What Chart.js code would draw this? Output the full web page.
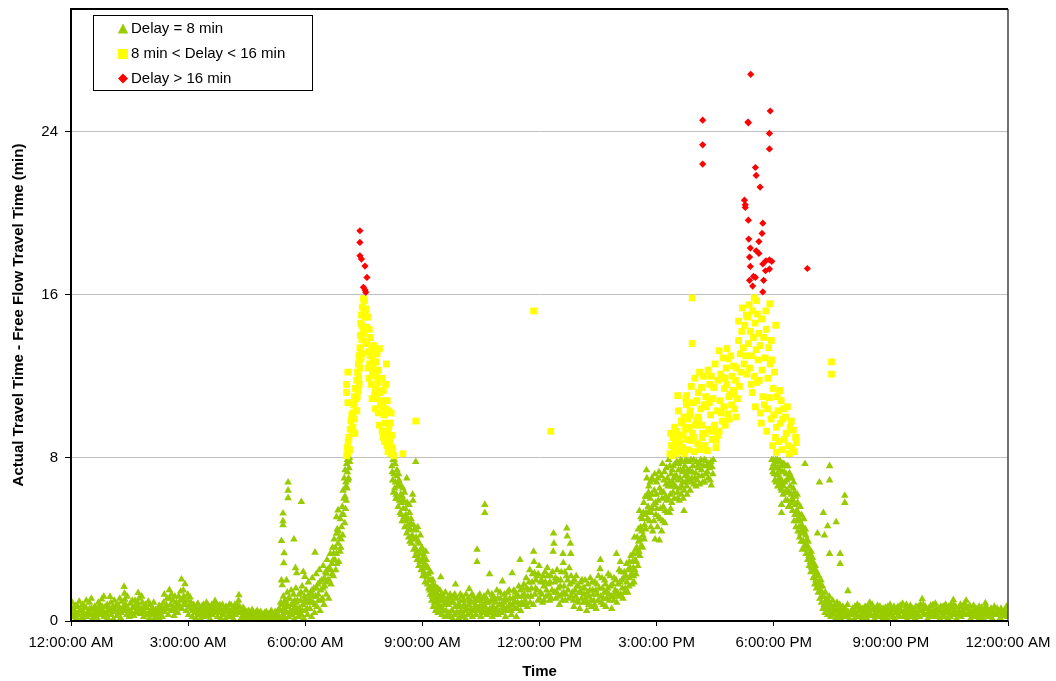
<!DOCTYPE html>
<html>
<head>
<meta charset="utf-8">
<title>Travel time delay by time of day</title>
<script src="https://cdn.jsdelivr.net/npm/chart.js@4.4.1/dist/chart.umd.min.js"></script>
<style>
  html, body { margin: 0; padding: 0; background: #fff; }
  #wrap { width: 1056px; height: 681px; }
</style>
</head>
<body>
<div id="wrap"><canvas id="delayChart" width="1056" height="681"></canvas></div>
<script>
// --- AXES ---
const timeTicks = [0, 3, 6, 9, 12, 15, 18, 21, 24];
const timeLabels = ['12:00:00 AM', '3:00:00 AM', '6:00:00 AM', '9:00:00 AM', '12:00:00 PM',
                    '3:00:00 PM', '6:00:00 PM', '9:00:00 PM', '12:00:00 AM'];
const delayTicks = [0, 8, 16, 24];
const delayMax = 30;
const seriesNames = ['Delay = 8 min', '8 min < Delay < 16 min', 'Delay > 16 min'];

// --- DATA : [hour of day, delay (min)] ---
const greenNight = [
  [0.02,0.35],[0.05,0.6],[0.08,0.2],[0.11,0.45],[0.14,0.15],[0.17,0.7],[0.2,0.3],[0.23,0.55],[0.26,0.1],[0.29,0.8],
  [0.32,0.4],[0.35,0.25],[0.38,0.65],[0.41,0.2],[0.44,0.5],[0.47,0.9],[0.5,0.3],[0.53,0.6],[0.56,0.15],[0.59,0.45],
  [0.62,0.2],[0.65,0.35],[0.68,0.1],[0.71,0.55],[0.74,0.8],[0.77,0.3],[0.79,1.06],[0.82,0.5],[0.85,0.2],[0.88,0.7],
  [0.91,0.4],[0.94,0.15],[0.97,0.6],[1.0,1.19],[1.03,0.3],[1.06,0.55],[1.09,0.1],[1.12,0.45],[1.15,0.75],[1.18,0.25],
  [1.21,0.4],[1.24,0.6],[1.27,0.15],[1.3,0.95],[1.33,0.5],[1.36,1.68],[1.37,1.35],[1.38,1.05],[1.4,0.8],[1.43,0.3],
  [1.46,0.6],[1.49,0.2],[1.52,0.85],[1.55,0.4],[1.58,0.65],[1.61,0.25],[1.64,1.0],[1.67,0.5],[1.7,0.75],[1.72,1.38],
  [1.74,1.1],[1.77,0.35],[1.8,0.6],[1.83,0.9],[1.86,0.2],[1.89,0.45],[1.92,0.7],[1.95,0.3],[1.98,0.95],[2.01,0.15],
  [2.04,0.5],[2.07,0.3],[2.1,0.6],[2.13,0.1],[2.16,0.4],[2.19,0.25],[2.22,0.55],[2.25,0.15],[2.28,0.35],[2.31,0.7],
  [2.34,0.2],[2.37,0.9],[2.4,0.45],[2.43,0.65],[2.46,1.1],[2.49,0.3],[2.52,1.52],[2.55,0.8],[2.58,0.5],[2.61,1.0],
  [2.64,0.25],[2.67,0.6],[2.7,0.9],[2.73,0.4],[2.76,1.2],[2.79,0.7],[2.81,1.45],[2.83,2.04],[2.86,1.1],[2.88,1.5],
  [2.9,0.85],[2.92,1.81],[2.95,0.5],[2.98,1.0],[3.01,0.3],[3.05,1.16],[3.08,0.6],[3.11,0.2],[3.14,0.8],[3.17,0.4],
  [3.2,0.15],[3.23,0.6],[3.26,0.3],[3.29,0.5],[3.32,0.1],[3.35,0.7],[3.38,0.35],[3.41,0.2],[3.44,0.55],[3.47,0.9],
  [3.5,0.25],[3.53,0.45],[3.56,0.1],[3.59,0.6],[3.62,0.3],[3.66,0.75],[3.69,0.98],[3.72,0.4],[3.75,0.2],[3.78,0.55],
  [3.81,0.78],[3.84,0.15],[3.87,0.4],[3.9,0.3],[3.93,0.6],[3.96,0.1],[3.99,0.45],[4.02,0.25],[4.05,0.5],[4.08,0.2],
  [4.1,0.78],[4.13,0.35],[4.16,0.1],[4.19,0.55],[4.22,0.3],[4.25,0.6],[4.27,0.75],[4.3,1.27],[4.33,0.4],[4.36,0.15],
  [4.39,0.5],[4.42,0.25],[4.45,0.35],[4.48,0.1],[4.51,0.45],[4.54,0.2],[4.57,0.3],[4.6,0.05],[4.63,0.4],[4.66,0.2],
  [4.69,0.3],[4.72,0.1],[4.75,0.45],[4.78,0.2],[4.81,0.15],[4.84,0.39],[4.87,0.1],[4.9,0.3],[4.93,0.05],[4.96,0.4],
  [4.99,0.2],[5.02,0.1],[5.05,0.35],[5.08,0.15],[5.11,0.4],[5.14,0.05],[5.17,0.3],[5.2,0.2],[5.23,0.45],[5.26,0.1],[5.29,0.3],
  [0.03,0.9],[0.07,0.4],[0.12,0.75],[0.16,0.3],[0.21,0.95],[0.25,0.5],[0.3,0.15],[0.34,0.7],[0.39,1.0],[0.43,0.35],
  [0.48,0.6],[0.52,1.1],[0.57,0.4],[0.61,0.7],[0.66,0.55],[0.7,0.9],[0.75,0.45],[0.8,0.7],[0.84,1.2],[0.89,0.35],
  [0.93,0.8],[0.98,0.5],[1.02,0.9],[1.07,0.7],[1.11,1.0],[1.16,0.45],[1.2,0.8],[1.25,1.1],[1.29,0.4],[1.34,0.7],
  [1.39,0.55],[1.44,1.2],[1.48,0.5],[1.53,0.3],[1.57,1.0],[1.62,0.7],[1.66,0.4],[1.71,0.9],[1.76,0.6],[1.81,1.2],
  [1.85,0.5],[1.9,0.8],[1.94,0.65],[1.99,0.4],[2.03,0.8],[2.08,0.6],[2.12,0.9],[2.17,0.55],[2.21,0.3],[2.26,0.75],
  [2.3,0.5],[2.35,0.6],[2.39,1.3],[2.44,0.8],[2.48,0.6],[2.53,1.1],[2.57,1.3],[2.62,0.7],[2.66,1.2],[2.71,0.5],
  [2.75,0.8],[2.8,1.0],[2.84,0.6],[2.89,1.2],[2.94,0.8],[2.99,1.3],[3.03,0.7],[3.07,0.9],[3.12,0.5],[3.16,0.7],
  [3.21,0.4],[3.25,0.85],[3.3,0.65],[3.34,0.4],[3.39,0.8],[3.43,0.45],[3.48,0.6],[3.52,0.75],[3.57,0.35],[3.61,0.8],
  [3.65,0.5],[3.7,0.6],[3.74,0.8],[3.79,0.4],[3.83,0.6],[3.88,0.8],[3.92,0.45],[3.97,0.7],[4.01,0.5],[4.06,0.8],
  [4.11,0.5],[4.15,0.65],[4.2,0.8],[4.24,0.45],[4.29,1.0],[4.32,0.7],[4.37,0.55],[4.41,0.65],[4.46,0.5],[4.5,0.3],
  [4.55,0.5],[4.59,0.35],[4.64,0.55],[4.68,0.4],[4.73,0.3],[4.77,0.5],[4.82,0.3],[4.86,0.45],[4.91,0.2],[4.95,0.3],
  [5.0,0.45],[5.04,0.25],[5.09,0.3],[5.13,0.5],[5.18,0.15],[5.22,0.3],[5.27,0.4]
];
const greenDawn = [
  [5.32,0.2],[5.35,0.5],[5.38,0.1],[5.4,0.8],[5.42,0.3],[5.44,1.2],[5.46,0.6],[5.48,0.15],[5.5,1.0],[5.52,0.4],
  [5.54,1.4],[5.56,0.7],[5.58,0.2],[5.6,1.1],[5.62,0.5],[5.64,1.5],[5.66,0.3],[5.68,0.9],[5.7,1.3],[5.72,0.1],
  [5.74,0.7],[5.76,1.6],[5.78,0.4],[5.8,1.0],[5.82,0.2],[5.84,1.3],[5.86,0.6],[5.88,1.0],[5.9,0.3],[5.92,1.7],
  [5.94,0.8],[5.96,0.15],[5.98,1.2],[6.0,0.5],[6.02,1.5],[6.04,0.9],[6.06,0.3],[6.08,1.9],[6.1,1.1],[6.12,0.6],
  [6.14,1.4],[6.16,0.2],[6.18,2.1],[6.2,0.9],[6.22,1.6],[6.24,0.4],[6.26,1.2],[6.28,2.3],[6.3,0.7],[6.32,1.8],
  [6.34,1.0],[6.36,2.5],[6.38,0.5],[6.4,1.5],[6.42,2.0],[6.44,1.1],[6.46,2.7],[6.48,0.8],[6.5,1.7],[6.52,2.4],
  [6.54,1.3],[6.56,3.0],[6.58,2.0],[6.6,1.1],[6.62,2.6],[6.64,3.3],[6.66,1.8],[6.68,2.8],[6.7,3.6],[6.72,2.2],
  [6.74,4.0],[6.76,3.0],[6.78,2.5],[6.8,3.3],[6.82,4.5],[6.84,3.8],[6.86,2.9],[6.88,4.1],[6.9,5.0],[6.91,3.6],
  [6.93,4.6],[6.95,5.6],[6.96,4.2],[6.97,6.4],[6.98,5.2],[7.0,7.0],[7.01,4.8],[7.02,6.1],[7.03,5.5],[7.04,6.8],
  [7.05,5.9],[7.06,7.7],[7.07,6.5],[7.08,7.3],[7.09,6.9],[7.1,7.9],[7.12,7.5],[7.14,7.8],
  [5.33,0.6],[5.37,0.9],[5.41,0.5],[5.45,0.9],[5.49,0.5],[5.53,0.8],[5.57,1.1],[5.61,0.3],[5.65,0.8],[5.69,0.5],
  [5.73,1.0],[5.77,0.9],[5.81,0.6],[5.85,0.4],[5.89,1.4],[5.93,0.5],[5.97,0.9],[6.01,1.1],[6.05,0.6],[6.09,1.3],
  [6.13,0.9],[6.17,1.5],[6.21,1.2],[6.25,0.8],[6.29,1.6],[6.33,1.3],[6.37,1.9],[6.41,1.0],[6.45,1.6],[6.49,2.1],
  [6.53,1.9],[6.57,2.5],[6.61,2.0],[6.65,2.5],[6.69,2.3],[6.73,3.3],[6.77,3.6],[6.81,2.8],[6.85,4.4],[6.89,3.4],
  [6.92,4.0],[6.94,5.2],[6.99,6.0],[7.02,7.4],[7.05,6.6],[7.08,7.9],[7.11,7.0],[7.13,8.0]
];
const greenDawnSpikes = [
  [5.39,3.93],[5.46,3.33],[5.45,2.84],[5.39,2.0],[5.52,2.0],[5.41,1.76],[5.43,5.28],[5.43,4.9],[5.43,4.7],
  [5.56,6.8],[5.56,6.4],[5.56,6.03],[5.71,4.0],[5.9,5.84],[5.75,2.6],[5.78,2.35],[5.95,2.41],[5.99,2.17],
  [6.25,3.36],[6.54,2.33],[6.71,2.98],[6.8,4.29],[6.8,5.1],[6.84,5.43]
];
const greenAmFall = [
  [8.22,7.6],[8.24,6.9],[8.25,7.9],[8.27,7.2],[8.29,6.5],[8.3,7.7],[8.32,6.0],[8.34,7.1],[8.36,6.6],[8.38,5.6],
  [8.4,6.9],[8.42,6.75],[8.43,5.3],[8.45,6.2],[8.47,5.8],[8.48,4.9],[8.5,6.5],[8.52,5.9],[8.53,5.1],[8.55,4.6],
  [8.57,5.5],[8.6,7.0],[8.6,4.3],[8.62,5.0],[8.64,4.45],[8.66,5.7],[8.68,3.9],[8.7,4.8],[8.72,3.8],[8.74,4.2],
  [8.75,6.2],[8.76,5.9],[8.78,3.5],[8.8,4.5],[8.82,3.2],[8.83,7.8],[8.85,4.45],[8.87,3.0],[8.89,3.9],[8.91,2.7],
  [8.93,3.3],[8.95,4.2],[8.97,2.5],[8.99,3.6],[9.01,2.2],[9.03,3.1],[9.05,2.8],[9.07,1.9],[9.09,3.4],[9.1,3.0],
  [9.12,2.15],[9.14,2.6],[9.16,1.6],[9.18,2.4],[9.2,1.3],[9.22,2.0],[9.24,1.0],[9.26,1.8],[9.28,0.7],[9.3,1.5],
  [9.32,1.1],[9.34,0.5],[9.36,1.4],[9.38,0.9],[9.4,0.4],[9.42,1.2],[9.45,1.5],[9.47,2.15],[9.48,0.7],[9.5,0.3],
  [9.52,1.0],[9.55,0.5],[9.58,0.2],[9.6,0.9],[9.62,1.0],[9.65,0.3],
  [8.23,7.3],[8.26,6.3],[8.28,7.9],[8.31,6.8],[8.33,6.2],[8.35,7.4],[8.37,6.0],[8.39,7.2],[8.41,5.9],[8.44,6.6],
  [8.46,5.2],[8.49,6.1],[8.51,5.5],[8.54,6.3],[8.56,4.9],[8.58,5.2],[8.61,5.8],[8.63,4.7],[8.65,4.1],[8.67,5.3],
  [8.69,4.5],[8.71,5.0],[8.73,4.0],[8.77,4.7],[8.79,4.0],[8.81,3.6],[8.84,4.1],[8.86,3.4],[8.88,4.6],[8.9,3.1],
  [8.92,3.8],[8.94,2.9],[8.96,3.5],[8.98,3.0],[9.0,2.6],[9.02,3.3],[9.04,2.4],[9.06,3.0],[9.08,2.2],[9.11,2.7],
  [9.13,1.8],[9.15,2.3],[9.17,2.0],[9.19,1.5],[9.21,2.4],[9.23,1.6],[9.25,1.2],[9.27,2.0],[9.29,1.3],[9.31,0.9],
  [9.33,1.7],[9.35,1.2],[9.37,0.6],[9.39,1.6],[9.41,0.8],[9.44,1.0],[9.46,0.4],[9.49,1.3],[9.51,0.6],[9.54,1.2],
  [9.56,0.8],[9.59,1.4],[9.61,0.5],[9.64,1.1]
];
const greenMidday = [
  [9.67,0.8],[9.7,0.2],[9.72,1.1],[9.75,0.5],[9.78,0.1],[9.8,0.9],[9.83,1.3],[9.85,1.8],[9.87,0.4],[9.9,0.7],
  [9.93,0.15],[9.96,1.0],[9.99,0.5],[10.02,1.2],[10.05,0.3],[10.08,0.8],[10.11,0.1],[10.14,0.6],[10.17,1.1],[10.2,1.57],
  [10.22,0.4],[10.25,0.9],[10.28,0.2],[10.31,1.2],[10.34,0.6],[10.37,0.3],[10.4,3.5],[10.4,2.9],[10.41,1.0],[10.44,0.5],
  [10.47,1.3],[10.5,0.2],[10.53,0.8],[10.56,1.1],[10.59,0.4],[10.6,5.7],[10.6,5.3],[10.62,0.9],[10.65,0.3],[10.68,1.4],
  [10.72,2.3],[10.73,0.6],[10.76,1.0],[10.79,0.2],[10.82,1.2],[10.85,0.5],[10.88,0.9],[10.91,1.5],[10.94,0.3],[10.97,0.8],
  [11.0,1.1],[11.03,0.4],[11.05,1.95],[11.07,0.7],[11.1,1.3],[11.13,0.2],[11.16,1.0],[11.19,0.5],[11.22,1.5],[11.25,0.8],
  [11.28,0.3],[11.3,2.35],[11.32,1.1],[11.35,0.6],[11.38,1.4],[11.41,0.2],[11.44,0.9],[11.47,1.7],[11.5,3.0],[11.52,0.5],
  [11.55,1.2],[11.58,0.8],[11.6,1.8],[11.63,1.0],[11.66,2.1],[11.69,0.7],[11.72,1.5],[11.75,2.5],[11.78,1.2],[11.81,1.9],
  [11.84,0.8],[11.85,3.4],[11.86,2.9],[11.87,2.35],[11.9,1.6],[11.93,2.2],[11.96,1.0],[11.99,2.7],[12.02,1.4],[12.05,2.0],
  [12.08,0.9],[12.11,1.7],[12.14,2.4],[12.17,1.2],[12.2,2.6],[12.23,1.8],[12.26,1.0],[12.29,2.2],[12.32,1.5],[12.35,3.4],
  [12.36,4.3],[12.37,3.8],[12.39,1.9],[12.42,1.1],[12.45,2.5],[12.48,1.6],[12.51,0.8],[12.54,2.0],[12.57,1.3],[12.6,3.3],
  [12.61,2.85],[12.63,1.7],[12.66,1.0],[12.69,2.2],[12.7,4.55],[12.71,4.15],[12.73,1.5],[12.76,2.6],[12.79,3.8],[12.8,3.3],
  [12.82,1.2],[12.85,1.9],[12.88,0.7],[12.91,1.5],[12.94,2.2],[12.97,1.0],[13.0,1.7],[13.03,0.6],[13.06,1.4],[13.09,2.0],
  [13.12,0.9],[13.15,1.6],[13.18,1.1],[13.21,0.5],[13.24,1.8],[13.27,1.2],[13.3,2.1],[13.33,0.7],[13.36,1.5],[13.39,1.0],
  [13.42,1.9],[13.45,0.6],[13.48,1.3],[13.51,2.2],[13.55,2.55],[13.56,3.0],[13.58,0.9],[13.61,1.6],[13.64,1.1],[13.67,2.0],
  [13.7,0.7],[13.73,1.4],[13.76,2.3],[13.79,1.0],[13.82,1.7],[13.85,0.6],[13.88,1.2],[13.91,2.1],[13.94,1.5],[13.97,3.3],
  [13.98,0.9],[14.01,1.8],[14.04,2.5],[14.07,2.9],[14.08,1.3],[14.11,2.0],[14.14,1.1],[14.17,2.4],[14.2,1.6],[14.23,2.8],
  [14.26,1.4],[14.3,2.9],[14.31,2.1],[14.34,3.2],[14.37,1.8],[14.4,2.6],
  [9.68,0.4],[9.71,1.3],[9.74,0.9],[9.77,0.5],[9.79,1.2],[9.82,0.3],[9.84,0.7],[9.88,1.1],[9.91,0.4],[9.95,0.8],
  [9.97,1.3],[10.0,0.2],[10.04,0.7],[10.06,1.0],[10.09,0.5],[10.12,1.3],[10.16,0.3],[10.19,0.8],[10.21,1.0],[10.24,0.6],
  [10.27,1.3],[10.3,0.5],[10.33,1.0],[10.36,0.8],[10.39,0.5],[10.43,1.2],[10.46,0.7],[10.49,1.0],[10.52,0.4],[10.55,0.6],
  [10.58,1.2],[10.61,0.7],[10.64,1.1],[10.67,0.5],[10.7,0.9],[10.75,0.4],[10.78,1.3],[10.81,0.7],[10.84,1.0],[10.87,0.3],
  [10.9,0.6],[10.93,1.1],[10.96,0.5],[10.99,1.4],[11.02,0.8],[11.06,0.5],[11.09,0.9],[11.12,1.1],[11.15,0.6],[11.18,1.4],
  [11.21,0.7],[11.24,1.1],[11.27,0.5],[11.31,0.8],[11.34,1.5],[11.37,0.9],[11.4,1.2],[11.43,0.6],[11.46,1.2],[11.49,0.8],
  [11.51,1.5],[11.54,0.9],[11.57,1.6],[11.61,1.3],[11.64,0.8],[11.67,1.6],[11.7,1.2],[11.73,1.9],[11.76,0.9],[11.79,1.6],
  [11.82,2.3],[11.88,1.3],[11.91,2.0],[11.94,1.5],[11.97,2.3],[12.0,1.1],[12.03,1.9],[12.06,1.3],[12.09,2.2],[12.12,1.0],
  [12.15,1.9],[12.18,1.5],[12.21,2.2],[12.24,1.3],[12.27,1.9],[12.3,1.1],[12.33,2.4],[12.38,1.4],[12.41,2.1],[12.44,1.4],
  [12.47,2.0],[12.5,1.2],[12.53,1.7],[12.56,2.4],[12.59,1.0],[12.62,1.4],[12.65,2.4],[12.68,1.3],[12.72,2.0],[12.75,1.1],
  [12.78,1.8],[12.81,2.2],[12.84,1.4],[12.87,1.0],[12.9,2.0],[12.93,1.2],[12.96,1.7],[12.99,0.9],[13.02,1.4],[13.05,1.9],
  [13.08,1.1],[13.11,1.6],[13.14,1.3],[13.17,2.0],[13.2,0.9],[13.23,1.4],[13.26,0.8],[13.29,1.5],[13.32,1.0],[13.35,1.9],
  [13.38,1.3],[13.41,0.8],[13.44,1.5],[13.47,1.8],[13.5,1.0],[13.53,1.6],[13.57,1.2],[13.6,2.1],[13.63,0.8],[13.66,1.4],
  [13.69,1.8],[13.72,1.1],[13.75,1.6],[13.78,1.3],[13.81,2.2],[13.84,1.2],[13.87,1.8],[13.9,1.0],[13.93,1.3],[13.96,2.0],
  [14.0,1.4],[14.03,1.2],[14.06,1.9],[14.09,2.4],[14.12,1.6],[14.15,2.1],[14.18,1.4],[14.21,2.2],[14.24,1.9],[14.27,2.5],
  [14.29,1.7],[14.32,2.6],[14.35,2.3],[14.38,2.9],[14.41,2.2]
];
const greenPmRise = [
  [14.42,1.9],[14.43,4.1],[14.45,3.0],[14.47,2.3],[14.49,3.6],[14.5,4.1],[14.52,2.7],[14.54,3.9],[14.56,5.4],[14.57,3.2],
  [14.59,4.6],[14.61,3.7],[14.63,5.0],[14.65,4.2],[14.67,5.8],[14.69,4.7],[14.71,6.1],[14.73,5.3],[14.74,7.4],[14.75,7.0],
  [14.76,6.1],[14.78,5.6],[14.8,6.6],[14.82,4.9],[14.84,6.0],[14.86,5.3],[14.88,7.0],[14.9,4.4],[14.92,5.7],[14.94,6.4],
  [14.96,4.0],[14.98,5.2],[15.0,6.8],[15.02,4.6],[15.04,5.9],[15.06,7.3],[15.07,3.96],[15.09,5.0],[15.11,6.3],[15.13,4.4],
  [15.15,7.7],[15.17,5.6],[15.19,6.9],[15.21,4.8],[15.23,6.1],[15.25,7.5],[15.27,5.3],[15.29,6.6],[15.31,7.9],[15.33,5.3],
  [15.35,6.2],[15.37,7.2],[15.39,5.8],[15.41,6.8],[15.43,7.6],[15.45,6.0],[15.47,7.1],[15.5,6.55],[15.52,7.8],[15.54,6.3],
  [15.56,7.4],[15.58,5.9],[15.6,7.0],[15.62,7.9],[15.64,6.6],[15.66,7.3],[15.68,6.0],[15.7,5.4],[15.72,7.6],[15.74,6.8],
  [15.76,7.2],[15.78,6.2],[15.8,7.8],[15.82,6.9],[15.84,7.4],[15.86,6.4],[15.88,7.9],[15.9,7.0],[15.93,7.6],[15.96,6.7],
  [16.0,7.25],[16.02,7.8],[16.04,6.9],[16.07,7.5],[16.1,6.7],[16.13,7.9],[16.16,7.1],[16.2,7.6],[16.23,6.8],[16.26,7.85],
  [16.3,7.3],[16.33,7.7],[16.37,6.9],[16.4,6.65],[16.42,7.55],[16.45,7.9],
  [14.41,3.3],[14.44,2.5],[14.46,3.5],[14.48,2.9],[14.51,3.3],[14.53,4.5],[14.55,3.4],[14.58,4.0],[14.6,5.1],[14.62,4.4],
  [14.64,3.6],[14.66,5.3],[14.68,4.0],[14.7,5.2],[14.72,4.5],[14.77,5.0],[14.79,6.3],[14.81,5.4],[14.83,6.8],[14.85,4.6],
  [14.87,6.2],[14.89,5.5],[14.91,6.9],[14.93,4.9],[14.95,7.2],[14.97,5.8],[14.99,6.2],[15.01,5.5],[15.03,7.0],[15.05,5.1],
  [15.08,6.5],[15.1,5.5],[15.12,7.1],[15.14,6.0],[15.16,4.9],[15.18,6.3],[15.2,7.3],[15.22,5.4],[15.24,6.7],[15.26,5.9],
  [15.28,7.0],[15.3,6.0],[15.32,6.8],[15.34,7.6],[15.36,5.5],[15.38,6.6],[15.4,7.4],[15.42,6.3],[15.44,7.0],[15.46,6.6],
  [15.48,7.7],[15.51,7.1],[15.53,6.0],[15.55,6.9],[15.57,7.7],[15.59,6.5],[15.61,7.4],[15.63,6.2],[15.65,7.8],[15.67,6.8],
  [15.69,7.4],[15.71,6.4],[15.73,7.1],[15.75,7.9],[15.77,6.6],[15.79,7.4],[15.81,7.0],[15.83,7.8],[15.85,6.9],[15.87,7.3],
  [15.89,6.8],[15.92,7.3],[15.95,7.9],[15.98,7.0],[16.01,6.6],[16.05,7.6],[16.08,7.1],[16.11,7.7],[16.15,7.4],[16.18,6.8],
  [16.22,7.9],[16.25,7.2],[16.28,7.6],[16.32,7.0],[16.35,7.5],[16.39,7.8],[16.44,7.2]
];
const greenPmFall = [
  [17.95,7.9],[17.98,7.3],[18.0,7.7],[18.03,6.9],[18.05,7.9],[18.07,7.8],[18.08,7.15],[18.1,7.5],[18.1,6.6],[18.12,7.5],
  [18.14,7.0],[18.16,7.85],[18.18,6.5],[18.2,6.9],[18.2,6.4],[18.2,5.7],[18.2,5.3],[18.22,7.3],[18.24,6.2],[18.26,7.7],
  [18.28,6.8],[18.3,5.9],[18.32,7.2],[18.34,6.4],[18.36,7.6],[18.38,5.6],[18.4,7.25],[18.42,6.6],[18.44,5.8],[18.46,7.0],
  [18.48,5.4],[18.5,6.5],[18.52,4.9],[18.53,6.3],[18.55,5.7],[18.57,4.6],[18.58,5.4],[18.6,6.2],[18.62,4.4],[18.64,5.1],
  [18.66,4.1],[18.68,5.6],[18.7,3.9],[18.72,4.7],[18.73,3.5],[18.75,4.3],[18.77,5.0],[18.79,3.7],[18.8,7.7],[18.81,4.5],
  [18.83,3.3],[18.85,4.0],[18.87,3.0],[18.89,3.6],[18.91,2.7],[18.93,3.3],[18.95,2.4],[18.97,2.65],[18.99,3.1],[19.01,2.1],
  [19.03,2.8],[19.05,1.8],[19.07,2.5],[19.09,1.6],[19.11,2.2],[19.12,4.3],[19.14,1.4],[19.16,1.9],[19.17,6.8],[19.18,1.1],
  [19.2,1.7],[19.22,0.9],[19.24,1.4],[19.26,0.6],[19.27,5.3],[19.28,1.2],[19.3,4.2],[19.31,0.4],[19.33,1.0],[19.35,0.7],
  [19.38,4.65],[19.38,0.3],[19.4,0.9],[19.43,7.6],[19.43,6.9],[19.43,3.3],[19.43,0.5],[19.46,0.2],[19.49,0.7],[19.52,0.3],
  [19.55,0.6],[19.58,0.1],[19.6,4.85],[19.61,0.5],[19.64,0.2],[19.67,0.6],[19.7,3.3],[19.7,2.8],[19.71,0.15],[19.74,0.5],
  [19.78,0.3],[19.82,6.15],[19.82,5.8],[19.83,0.6],[19.86,0.2],[19.9,1.47],[19.9,0.45],[19.94,0.1],
  [17.96,7.5],[17.99,7.9],[18.01,7.2],[18.04,7.5],[18.06,6.8],[18.09,7.9],[18.11,7.2],[18.13,6.9],[18.15,7.4],[18.17,6.7],
  [18.19,7.6],[18.21,6.8],[18.23,7.7],[18.25,6.6],[18.27,7.3],[18.29,6.3],[18.31,7.6],[18.33,6.9],[18.35,5.9],[18.37,7.0],
  [18.39,6.3],[18.41,5.6],[18.43,7.1],[18.45,6.2],[18.47,6.0],[18.49,5.9],[18.51,6.8],[18.54,5.2],[18.56,6.1],[18.59,4.9],
  [18.61,5.8],[18.63,5.3],[18.65,4.6],[18.67,4.9],[18.69,4.3],[18.71,5.2],[18.74,4.5],[18.76,3.9],[18.78,4.4],[18.8,3.6],
  [18.82,4.2],[18.84,3.7],[18.86,3.5],[18.88,3.9],[18.9,3.2],[18.92,3.0],[18.94,2.9],[18.96,3.4],[18.98,2.6],[19.0,2.9],
  [19.02,2.5],[19.04,2.2],[19.06,2.7],[19.08,2.0],[19.1,2.4],[19.13,1.8],[19.15,2.2],[19.19,1.5],[19.21,2.0],[19.23,1.2],
  [19.25,1.7],[19.29,0.8],[19.32,1.4],[19.34,0.6],[19.37,1.1],[19.39,0.5],[19.42,1.2],[19.45,0.8],[19.48,0.4],[19.51,1.0],
  [19.54,0.3],[19.57,0.8],[19.62,0.9],[19.66,0.4],[19.69,0.8],[19.73,0.3],[19.77,0.7],[19.81,0.2],[19.85,0.5],[19.89,0.8],[19.93,0.3]
];
const greenLate = [
  [19.98,0.3],[20.02,0.6],[20.06,0.1],[20.1,0.4],[20.14,0.8],[20.18,0.2],[20.22,0.5],[20.26,0.1],[20.3,0.35],[20.34,0.7],
  [20.38,0.15],[20.42,0.45],[20.46,0.9],[20.5,0.25],[20.54,0.55],[20.58,0.1],[20.62,0.4],[20.66,0.75],[20.7,0.2],[20.74,0.5],
  [20.78,0.05],[20.82,0.35],[20.86,0.65],[20.9,0.15],[20.94,0.45],[20.98,0.8],[21.02,0.3],[21.06,0.55],[21.1,0.1],[21.14,0.4],
  [21.18,0.7],[21.22,0.2],[21.26,0.5],[21.3,0.85],[21.34,0.3],[21.38,0.6],[21.42,0.1],[21.46,0.45],[21.5,0.75],[21.54,0.25],
  [21.58,0.55],[21.62,0.15],[21.66,0.4],[21.7,0.7],[21.74,0.2],[21.78,0.5],[21.8,1.07],[21.83,0.8],[21.86,0.3],[21.9,0.6],
  [21.94,0.1],[21.98,0.45],[22.02,0.75],[22.06,0.2],[22.1,0.5],[22.14,0.85],[22.18,0.3],[22.22,0.6],[22.26,0.1],[22.3,0.4],
  [22.34,0.7],[22.38,0.2],[22.42,0.55],[22.46,0.15],[22.5,0.45],[22.54,0.8],[22.58,0.3],[22.6,1.03],[22.64,0.5],[22.68,0.1],
  [22.72,0.4],[22.76,0.7],[22.8,0.2],[22.84,0.5],[22.88,0.85],[22.93,1.0],[22.96,0.3],[23.0,0.6],[23.04,0.1],[23.08,0.45],
  [23.12,0.75],[23.16,0.2],[23.2,0.5],[23.24,0.05],[23.28,0.35],[23.32,0.65],[23.36,0.15],[23.42,0.87],[23.45,0.4],[23.5,0.2],
  [23.55,0.55],[23.6,0.1],[23.65,0.7],[23.7,0.3],[23.75,0.5],[23.8,0.15],[23.85,0.45],[23.9,0.25],[23.96,0.7],[23.99,0.2],
  [20.0,0.5],[20.04,0.3],[20.08,0.7],[20.12,0.2],[20.16,0.5],[20.2,0.7],[20.24,0.3],[20.28,0.6],[20.32,0.2],[20.36,0.5],
  [20.4,0.7],[20.44,0.3],[20.48,0.55],[20.52,0.8],[20.56,0.3],[20.6,0.6],[20.64,0.2],[20.68,0.5],[20.72,0.7],[20.76,0.3],
  [20.8,0.6],[20.84,0.2],[20.88,0.4],[20.92,0.7],[20.96,0.3],[21.0,0.55],[21.04,0.2],[21.08,0.7],[21.12,0.4],[21.16,0.6],
  [21.2,0.3],[21.24,0.75],[21.28,0.45],[21.32,0.2],[21.36,0.5],[21.4,0.8],[21.44,0.3],[21.48,0.55],[21.52,0.2],[21.56,0.6],
  [21.6,0.4],[21.64,0.7],[21.68,0.3],[21.72,0.5],[21.76,0.8],[21.81,0.6],[21.84,0.4],[21.88,0.7],[21.92,0.3],[21.96,0.6],
  [22.0,0.2],[22.04,0.5],[22.08,0.8],[22.12,0.3],[22.16,0.6],[22.2,0.2],[22.24,0.5],[22.28,0.7],[22.32,0.2],[22.36,0.5],
  [22.4,0.8],[22.44,0.4],[22.48,0.7],[22.52,0.2],[22.56,0.6],[22.61,0.8],[22.62,0.4],[22.66,0.7],[22.7,0.3],[22.74,0.5],
  [22.78,0.8],[22.82,0.4],[22.86,0.6],[22.9,0.3],[22.94,0.7],[22.98,0.4],[23.02,0.75],[23.06,0.3],[23.1,0.5],[23.14,0.2],
  [23.18,0.6],[23.22,0.3],[23.26,0.7],[23.3,0.2],[23.34,0.5],[23.38,0.3],[23.4,0.6],[23.44,0.7],[23.48,0.5],[23.52,0.3],
  [23.57,0.6],[23.62,0.4],[23.67,0.3],[23.72,0.6],[23.77,0.4],[23.82,0.6],[23.87,0.3],[23.92,0.5],[23.97,0.4]
];

const yellowAm = [
  [7.06,8.1],[7.08,8.5],[7.09,8.2],[7.1,8.8],[7.12,9.0],[7.14,8.4],[7.15,9.4],[7.17,9.8],[7.19,10.1],[7.2,9.2],
  [7.22,9.5],[7.22,10.2],[7.24,10.6],[7.25,9.9],[7.26,11.0],[7.27,9.2],[7.28,11.4],[7.29,10.9],[7.3,10.3],[7.32,11.8],
  [7.32,10.3],[7.33,11.0],[7.34,12.2],[7.35,11.3],[7.36,12.6],[7.37,11.9],[7.38,13.0],[7.38,11.6],[7.39,12.8],[7.4,13.4],
  [7.4,12.4],[7.41,14.0],[7.42,14.6],[7.42,13.3],[7.43,12.9],[7.44,15.0],[7.45,13.8],[7.45,14.5],[7.46,15.4],[7.47,13.1],
  [7.48,14.3],[7.49,15.8],[7.5,15.2],[7.51,14.1],[7.52,15.7],[7.53,14.9],[7.54,15.0],[7.55,13.7],[7.56,15.3],[7.57,14.4],
  [7.58,13.6],[7.6,14.9],[7.61,12.4],[7.62,13.2],[7.63,11.9],[7.64,14.3],[7.65,12.6],[7.66,13.0],[7.67,13.9],[7.69,11.6],
  [7.7,13.3],[7.71,10.9],[7.72,12.1],[7.73,12.8],[7.74,12.4],[7.75,13.5],[7.77,11.1],[7.78,12.1],[7.79,10.4],[7.8,11.4],
  [7.81,12.0],[7.82,12.7],[7.83,10.9],[7.84,13.1],[7.86,11.7],[7.87,10.2],[7.88,12.3],[7.9,13.35],[7.9,9.6],[7.92,11.2],
  [7.93,10.6],[7.94,10.8],[7.96,11.9],[7.97,9.3],[7.99,10.5],[8.0,11.3],[8.0,9.0],[8.02,10.1],[8.03,8.8],[8.04,9.7],
  [8.05,10.4],[8.06,11.6],[8.08,12.6],[8.09,8.6],[8.1,10.8],[8.11,9.3],[8.12,8.3],[8.13,10.3],[8.14,9.5],[8.15,9.0],
  [8.16,8.8],[8.18,9.7],[8.19,8.2],[8.2,10.2],[8.21,9.1],[8.22,8.5],[8.24,8.4],[8.27,8.1],
  [7.06,11.6],[7.06,11.2],[7.09,12.2],[7.09,10.7],[8.5,8.2],[8.83,9.8],[11.85,15.2],[12.29,9.3]
];
const yellowPm = [
  [15.34,8.2],[15.36,9.2],[15.38,8.6],[15.4,8.1],[15.42,9.0],[15.44,8.4],[15.46,9.5],[15.48,8.8],[15.5,8.2],[15.52,9.3],
  [15.54,11.05],[15.55,8.6],[15.56,10.3],[15.58,9.0],[15.59,8.7],[15.61,8.3],[15.63,9.8],[15.65,9.7],[15.66,8.5],[15.68,9.1],
  [15.7,10.0],[15.72,8.2],[15.74,9.4],[15.75,10.9],[15.76,10.6],[15.77,11.05],[15.78,8.9],[15.8,9.9],[15.82,8.4],[15.84,9.5],
  [15.85,10.1],[15.86,10.3],[15.87,8.85],[15.89,11.5],[15.91,13.6],[15.91,15.84],[15.92,9.2],[15.94,10.7],[15.95,9.0],[15.96,8.3],
  [15.98,11.9],[16.0,9.6],[16.02,9.8],[16.03,10.8],[16.05,8.7],[16.06,10.0],[16.07,11.2],[16.08,9.9],[16.1,12.2],[16.11,8.4],
  [16.13,10.4],[16.15,11.45],[16.16,9.6],[16.17,9.0],[16.18,9.2],[16.2,12.0],[16.22,10.6],[16.24,8.6],[16.25,9.2],[16.26,11.0],
  [16.28,10.5],[16.3,8.35],[16.32,12.3],[16.34,9.4],[16.35,10.7],[16.36,11.6],[16.38,10.1],[16.4,12.0],[16.42,8.9],[16.44,10.9],
  [16.45,9.3],[16.46,11.45],[16.48,9.6],[16.5,12.6],[16.52,8.5],[16.53,8.85],[16.55,10.3],[16.56,9.1],[16.57,11.8],[16.6,13.25],
  [16.6,9.3],[16.62,10.8],[16.64,12.1],[16.65,10.2],[16.66,11.95],[16.68,9.8],[16.7,12.9],[16.72,10.5],[16.74,11.4],[16.75,11.9],
  [16.76,9.6],[16.78,12.4],[16.8,13.35],[16.8,11.6],[16.82,10.15],[16.84,12.85],[16.85,11.0],[16.86,9.9],[16.88,11.1],[16.9,13.0],
  [16.92,10.6],[16.93,12.0],[16.95,11.3],[16.97,12.5],[16.98,11.2],[17.0,10.4],[17.02,11.8],[17.04,10.0],[17.05,12.4],[17.07,10.9],
  [17.1,13.75],[17.1,14.7],[17.12,11.5],[17.14,13.1],[17.16,12.2],[17.18,14.2],[17.2,15.35],[17.22,13.4],[17.24,12.6],[17.26,14.5],
  [17.28,13.0],[17.3,15.0],[17.31,12.1],[17.33,14.9],[17.35,13.6],[17.37,15.5],[17.38,12.4],[17.4,14.2],[17.42,11.6],[17.43,13.0],
  [17.45,11.2],[17.46,15.2],[17.48,13.9],[17.5,15.85],[17.5,12.0],[17.52,14.6],[17.53,10.5],[17.55,13.3],[17.56,15.7],[17.57,11.7],
  [17.58,15.05],[17.6,12.8],[17.62,14.1],[17.63,11.8],[17.65,13.5],[17.66,10.2],[17.68,9.7],[17.69,14.8],[17.7,12.3],[17.72,11.0],
  [17.74,13.9],[17.76,10.6],[17.78,12.9],[17.8,15.2],[17.81,14.3],[17.82,9.3],[17.84,10.4],[17.85,11.9],[17.87,13.4],[17.89,10.95],
  [17.9,15.55],[17.91,12.6],[17.93,9.9],[17.94,13.75],[17.95,12.8],[17.97,8.6],[17.98,11.4],[18.0,10.1],[18.02,12.2],[18.04,9.0],
  [18.05,14.5],[18.07,8.27],[18.07,9.5],[18.09,11.0],[18.11,10.3],[18.13,8.8],[18.15,11.3],[18.17,9.7],[18.19,10.8],[18.21,8.4],
  [18.23,9.9],[18.25,10.4],[18.27,8.9],[18.3,10.0],[18.32,9.2],[18.35,10.5],[18.37,8.6],[18.4,8.2],[18.42,9.5],[18.45,9.8],
  [18.47,8.5],[18.5,9.35],[18.53,8.3],[18.56,9.0],[18.58,8.75],[19.48,12.7],[19.48,12.1]
];

const redAm = [
  [7.4,19.13],[7.4,18.56],[7.4,17.9],[7.44,17.74],[7.53,17.4],[7.58,16.84],[7.49,16.36],[7.53,16.23],[7.55,16.11]
];
const redPm = [
  [17.41,26.8],[16.18,24.55],[17.34,24.46],[17.35,24.42],[17.91,25.0],[17.89,23.9],[16.18,23.34],[17.89,23.14],[16.18,22.4],
  [17.53,22.23],[17.55,21.84],[17.65,21.27],[17.25,20.63],[17.27,20.4],[17.27,20.27],[17.35,19.65],[17.72,19.5],[17.7,19.0],
  [17.36,18.72],[17.62,18.6],[17.4,18.28],[17.55,18.15],[17.62,18.02],[17.38,17.84],[17.4,17.38],[17.72,17.5],[17.8,17.66],
  [17.89,17.7],[17.95,17.63],[17.79,17.17],[17.89,17.25],[18.86,17.28],[17.48,16.89],[17.53,16.84],[17.38,16.7],[17.74,16.7],
  [17.46,16.42],[17.72,16.13]
];

const green = [].concat(greenNight, greenDawn, greenDawnSpikes, greenAmFall, greenMidday,
                        greenPmRise, greenPmFall, greenLate);
const yellow = [].concat(yellowAm, yellowPm);
const red = [].concat(redAm, redPm);

const toXY = list => list.map(p => ({ x: p[0], y: p[1] }));

// --- STYLE ---
const FONT = "'Liberation Sans', Arial, sans-serif";
const COLORS = ['#99cc00', '#ffff00', '#ff0000'];

// plot frame drawn over the markers
const plotFrame = {
  id: 'plotFrame',
  afterDatasetsDraw(chart) {
    const { ctx, chartArea: a } = chart;
    ctx.save();
    ctx.lineWidth = 1.5;
    ctx.strokeStyle = '#404040';
    ctx.beginPath();
    ctx.moveTo(a.right, a.top);
    ctx.lineTo(a.right, a.bottom);
    ctx.stroke();
    ctx.strokeStyle = '#000';
    ctx.lineWidth = 2;
    ctx.beginPath();
    ctx.moveTo(a.right, a.top);
    ctx.lineTo(a.left, a.top);
    ctx.lineTo(a.left, a.bottom);
    ctx.lineTo(a.right, a.bottom);
    ctx.stroke();
    ctx.restore();
  }
};

function marker(ctx, style, x, y, r) {
  ctx.beginPath();
  if (style === 'triangle') {
    ctx.moveTo(x, y - r);
    ctx.lineTo(x + r * 0.95, y + r * 0.8);
    ctx.lineTo(x - r * 0.95, y + r * 0.8);
  } else if (style === 'rect') {
    ctx.rect(x - r, y - r, 2 * r, 2 * r);
  } else {
    ctx.moveTo(x, y - r);
    ctx.lineTo(x + r, y);
    ctx.lineTo(x, y + r);
    ctx.lineTo(x - r, y);
  }
  ctx.closePath();
  ctx.fill();
}

// boxed legend in the top-left corner of the plot
const legendBox = {
  id: 'legendBox',
  afterDraw(chart) {
    const ctx = chart.ctx;
    const styles = ['triangle', 'rect', 'rectRot'];
    const sizes = [5.5, 5, 5];
    const rows = [29, 54, 78.5];
    ctx.save();
    ctx.fillStyle = '#fff';
    ctx.fillRect(93, 15, 219, 76);
    ctx.strokeStyle = '#000';
    ctx.lineWidth = 1;
    ctx.strokeRect(93.5, 15.5, 219, 75);
    ctx.font = '15px ' + FONT;
    ctx.textBaseline = 'middle';
    seriesNames.forEach((name, i) => {
      ctx.fillStyle = COLORS[i];
      marker(ctx, styles[i], 123, rows[i], sizes[i]);
      ctx.fillStyle = '#000';
      ctx.fillText(name, 131, rows[i]);
    });
    ctx.restore();
  }
};

// --- CHART ---
const chart = new Chart(document.getElementById('delayChart'), {
  type: 'scatter',
  data: {
    datasets: [
      { label: seriesNames[0], data: toXY(green), pointStyle: 'triangle', pointRadius: 4.4,
        backgroundColor: COLORS[0], borderWidth: 0, order: 3 },
      { label: seriesNames[1], data: toXY(yellow), pointStyle: 'rect', pointRadius: 4.8,
        backgroundColor: COLORS[1], borderWidth: 0, order: 2 },
      { label: seriesNames[2], data: toXY(red), pointStyle: 'rectRot', pointRadius: 3.6,
        backgroundColor: COLORS[2], borderWidth: 0, order: 1 }
    ]
  },
  options: {
    responsive: false,
    animation: false,
    devicePixelRatio: 1,
    layout: { padding: { left: 0, right: 48, top: 9, bottom: 0 } },
    plugins: {
      legend: { display: false },
      tooltip: { enabled: false }
    },
    scales: {
      x: {
        type: 'linear',
        min: 0,
        max: 24,
        afterBuildTicks: s => { s.ticks = timeTicks.map(v => ({ value: v })); },
        afterFit: s => { s.height = 60; s.paddingLeft = 0; s.paddingRight = 0; },
        ticks: {
          autoSkip: false,
          maxRotation: 0,
          padding: 8,
          color: '#000',
          font: { family: FONT, size: 15 },
          callback: (v, i) => timeLabels[i]
        },
        grid: { drawOnChartArea: false, tickLength: 5, tickColor: '#000', lineWidth: 1 },
        border: { display: false },
        title: {
          display: true,
          text: 'Time',
          color: '#000',
          font: { family: FONT, size: 15, weight: 'bold' },
          padding: { top: 3, bottom: 0 }
        }
      },
      y: {
        min: 0,
        max: delayMax,
        afterBuildTicks: s => { s.ticks = delayTicks.map(v => ({ value: v })); },
        afterFit: s => { s.width = 71; s.paddingTop = 0; s.paddingBottom = 0; },
        ticks: {
          padding: 7,
          color: '#000',
          font: { family: FONT, size: 15 }
        },
        grid: {
          tickLength: 6,
          tickColor: '#000',
          lineWidth: 1,
          color: c => (c.tick && c.tick.value === 0 ? 'rgba(0,0,0,0)' : '#c0c0c0')
        },
        border: { display: false },
        title: {
          display: true,
          text: 'Actual Travel Time - Free Flow Travel Time (min)',
          color: '#000',
          font: { family: FONT, size: 15, weight: 'bold' },
          padding: { top: 10, bottom: 0 }
        }
      }
    }
  },
  plugins: [plotFrame, legendBox]
});
</script>
</body>
</html>
